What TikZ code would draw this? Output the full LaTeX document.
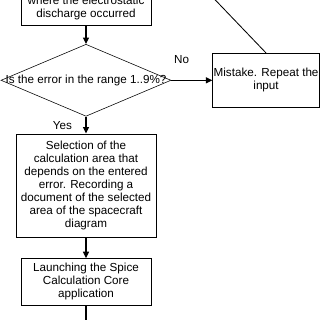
\documentclass[tikz,border=0pt]{standalone}
\usepackage{fontspec}
\setmainfont{Liberation Sans}
\usetikzlibrary{arrows.meta,positioning,shapes.geometric}
\begin{document}
\begin{tikzpicture}[
  node distance=4.5mm and 10mm,
  font=\fontsize{8.3}{9.3}\selectfont,
  box/.style={draw,align=center,minimum width=32.5mm,fill=white},
  decision/.style={draw,diamond,minimum width=42.5mm,minimum height=18mm,inner sep=0pt},
  arrow/.style={-{Triangle[length=1.6mm,width=1.5mm]},line width=0.8pt}
]
  \useasboundingbox (0,0) rectangle (8,-8);
  \node[box,anchor=south,inner ysep=4pt] (site) at (2.15,-0.65) {where the electrostatic\\discharge occurred};
  \node[decision,below=4.5mm of site] (check) {\makebox[0pt]{Is the error in the range 1..9\%?}};
  \node[box,minimum width=26.75mm,minimum height=13.5mm,inner xsep=0pt,right=10.25mm of check] (mistake) {Mistake. Repeat the\\input};
  \node[box,minimum height=25.75mm,below=4.25mm of check] (select) {Selection of the\\calculation area that\\depends on the entered\\error. Recording a\\document of the selected\\area of the spacecraft\\diagram};
  \node[box,minimum height=11.25mm,below=5.25mm of select] (launch) {Launching the Spice\\Calculation Core\\application};
  \coordinate (back) at (5.0,0.4);
  \coordinate (next) at (2.15,-8.4);
  \draw[arrow] (site) -- (check);
  \draw[arrow] (check) -- node[pos=0.25,above=2.8mm] {No} (mistake);
  \draw[arrow] (check) -- node[left=2.2mm] {Yes} (select);
  \draw[arrow] (select) -- (launch);
  \draw[line width=0.6pt] (mistake.north) -- (back);
  \draw[line width=0.8pt] (launch) -- (next);
\end{tikzpicture}
\end{document}
